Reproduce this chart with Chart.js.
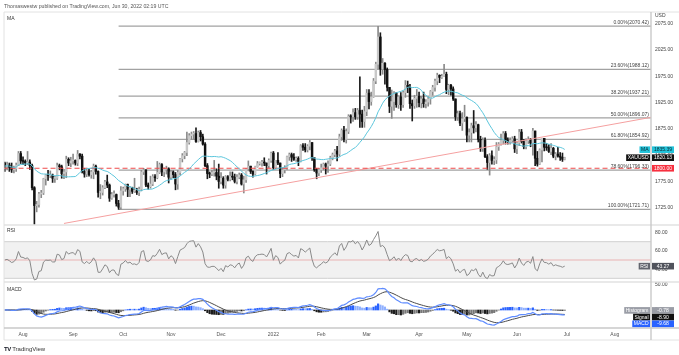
<!DOCTYPE html>
<html>
<head>
<meta charset="utf-8">
<title>XAUUSD daily</title>
<script src="https://cdn.jsdelivr.net/npm/chart.js@4.4.0/dist/chart.umd.min.js"></script>
<style>
  html, body { margin: 0; padding: 0; background: #fff; }
  #wrap { position: relative; width: 679px; height: 355px; overflow: hidden; font-family: "Liberation Sans", Arial, sans-serif; }
  #chart { position: absolute; left: 0; top: 0; }
  .hdr { position: absolute; left: 4px; top: 3px; font-size: 10.4px; color: #555; white-space: nowrap; transform: scale(0.5); transform-origin: 0 0; }
  .logo { position: absolute; left: 4px; top: 344.5px; font-size: 12px; color: #333; white-space: nowrap; transform: scale(0.5); transform-origin: 0 0; }
  .logo b { font-weight: 900; color: #131722; letter-spacing: -1px; margin-right: 3px; }
</style>
</head>
<body>
<div id="wrap">
  <canvas id="chart" width="679" height="355"></canvas>
  <div class="hdr">Thomaswestw published on TradingView.com, Jun 30, 2022 02:19 UTC</div>
  <div class="logo"><b>TV</b>TradingView</div>
</div>
<script>
// XAUUSD daily bars, Jul 21 2021 -> Jun 30 2022 (one line per month)
const opens = [
  1810,1804,1806,1802,1797,1799,1806,1828,
  1814,1813,1810,1812,1805,1763,1729,1731,1751,1753,1780,1787,1786,1787,1781,1781,1805,1803,1790,1793,1817,1810,
  1814,1815,1810,1827,1823,1794,1789,1795,1788,1793,1804,1794,1754,1754,1763,1774,1768,1743,1750,1750,1733,1726,
  1757,1761,1769,1760,1763,1756,1757,1754,1760,1793,1797,1768,1765,1770,1784,1782,1792,1807,1793,1798,1799,
  1783,1793,1788,1770,1792,1818,1824,1830,1849,1862,1865,1866,1851,1868,1860,1846,1805,1790,1789,1792,1792,1785,
  1775,1781,1768,1784,1779,1785,1783,1775,1783,1787,1770,1778,1799,1804,1794,1789,1803,1809,1810,1811,1810,1805,1815,
  1829,1801,1815,1810,1790,1797,1801,1822,1826,1821,1817,1819,1813,1843,1840,1835,1842,1849,1820,1797,1791,
  1797,1801,1808,1804,1808,1820,1826,1833,1827,1860,1872,1855,1870,1899,1898,1906,1898,1910,1903,1889,
  1908,1943,1927,1936,1966,1998,2050,1989,2000,1988,1954,1918,1927,1943,1921,1936,1921,1944,1958,1954,1923,1919,1933,
  1937,1925,1932,1923,1926,1932,1946,1954,1966,1977,1973,1975,1979,1950,1958,1951,1932,1898,1904,1886,1894,
  1897,1863,1868,1881,1877,1883,1855,1838,1853,1822,1811,1824,1815,1816,1841,1846,1853,1866,1853,1851,1853,1856,
  1837,1848,1869,1851,1841,1852,1855,1848,1871,1819,1808,1835,1857,1840,1839,1832,1838,1823,1827,1823,1821,1817
];
const highs = [
  1812,1812,1810,1810,1804,1810,1832,1832,
  1822,1816,1832,1816,1808,1765,1737,1754,1758,1781,1788,1796,1795,1789,1785,1810,1808,1806,1798,1823,1820,1821,
  1827,1816,1834,1828,1827,1800,1800,1799,1796,1808,1806,1795,1769,1767,1777,1787,1770,1754,1757,1751,1739,1765,
  1764,1770,1770,1765,1764,1781,1762,1764,1796,1800,1797,1772,1785,1788,1788,1813,1810,1809,1801,1804,1801,
  1796,1795,1792,1796,1819,1828,1832,1869,1866,1869,1870,1877,1871,1872,1865,1849,1809,1793,1796,1815,1799,1808,
  1792,1784,1786,1786,1793,1793,1789,1788,1791,1790,1785,1800,1814,1804,1795,1804,1813,1812,1815,1820,1810,1818,1831,
  1832,1815,1830,1810,1801,1805,1823,1829,1829,1828,1822,1822,1845,1847,1847,1845,1853,1849,1820,1800,1800,
  1808,1810,1810,1814,1823,1829,1836,1842,1865,1875,1880,1875,1902,1902,1913,1914,1914,1974,1911,1918,
  1950,1950,1945,1971,2002,2070,2058,2009,2001,1991,1954,1949,1946,1944,1938,1944,1947,1967,1966,1960,1930,1939,1950,
  1945,1937,1945,1931,1936,1948,1958,1970,1981,1978,1979,1998,1983,1960,1960,1955,1932,1909,1909,1906,1920,
  1898,1875,1886,1910,1889,1884,1861,1858,1858,1826,1828,1833,1822,1849,1849,1865,1870,1870,1858,1858,1860,1861,
  1852,1874,1874,1855,1856,1860,1857,1876,1871,1832,1837,1857,1857,1847,1845,1847,1840,1830,1840,1830,1829,1821
];
const lows = [
  1794,1797,1794,1792,1791,1794,1805,1809,
  1807,1805,1807,1798,1759,1693,1717,1726,1744,1750,1768,1777,1782,1773,1773,1779,1797,1781,1780,1782,1805,1803,
  1808,1806,1805,1818,1791,1783,1784,1785,1781,1780,1789,1745,1742,1749,1761,1763,1737,1741,1745,1728,1721.71,1722,
  1749,1756,1746,1746,1752,1754,1750,1748,1757,1788,1765,1760,1762,1767,1775,1780,1790,1786,1784,1789,1772,
  1779,1782,1759,1760,1787,1812,1818,1824,1846,1855,1855,1849,1850,1852,1844,1803,1780,1782,1786,1785,1778,1762,
  1770,1762,1762,1776,1776,1778,1772,1770,1780,1768,1753,1773,1795,1790,1783,1787,1802,1806,1804,1805,1789,1801,1811,
  1798,1799,1807,1782,1784,1791,1798,1815,1813,1815,1813,1805,1812,1834,1831,1831,1835,1815,1794,1780,1786,
  1792,1797,1789,1792,1805,1816,1822,1814,1823,1853,1850,1848,1866,1886,1889,1893,1893,1878,1878,1878,
  1900,1913,1920,1935,1961,1989,1977,1979,1960,1947,1906,1895,1910,1916,1914,1910,1916,1935,1944,1914,1890,1914,1916,
  1917,1915,1916,1915,1918,1922,1939,1947,1959,1963,1971,1975,1942,1940,1939,1929,1891,1891,1881,1872,1889,
  1850,1850,1850,1867,1869,1850,1832,1832,1820,1798,1787,1808,1807,1809,1834,1844,1846,1846,1846,1846,1849,1830,
  1828,1843,1848,1837,1837,1847,1841,1825,1805,1804,1807,1812,1833,1834,1830,1826,1820,1816,1821,1815,1813,1816
];
const closes = [
  1804,1806,1802,1797,1799,1806,1828,1814,
  1813,1810,1812,1805,1763,1729,1731,1751,1753,1780,1787,1786,1787,1781,1781,1805,1803,1790,1793,1817,1810,1814,
  1815,1810,1827,1823,1794,1789,1795,1788,1793,1804,1794,1754,1754,1763,1774,1768,1743,1750,1750,1733,1726,1757,
  1761,1769,1760,1763,1756,1757,1754,1760,1793,1797,1768,1765,1770,1784,1782,1792,1807,1793,1798,1799,1783,
  1793,1788,1770,1792,1818,1824,1830,1849,1862,1865,1866,1851,1868,1860,1846,1805,1790,1789,1792,1792,1785,1775,
  1781,1768,1784,1779,1785,1783,1775,1783,1787,1770,1778,1799,1804,1794,1789,1803,1809,1810,1811,1810,1805,1815,1829,
  1801,1815,1810,1790,1797,1801,1822,1826,1821,1817,1819,1813,1843,1840,1835,1842,1849,1820,1797,1791,1797,
  1801,1808,1804,1808,1820,1826,1833,1827,1860,1872,1855,1870,1899,1898,1906,1898,1910,1903,1889,1908,
  1943,1927,1936,1966,1998,2050,1989,2000,1988,1954,1918,1927,1943,1921,1936,1921,1944,1958,1954,1923,1919,1933,1937,
  1925,1932,1923,1926,1932,1946,1954,1966,1977,1973,1975,1979,1950,1958,1951,1932,1898,1904,1886,1894,1897,
  1863,1868,1881,1877,1883,1855,1838,1853,1822,1811,1824,1815,1816,1841,1846,1853,1866,1853,1851,1853,1856,1837,
  1848,1869,1851,1841,1852,1855,1848,1871,1819,1808,1835,1857,1840,1839,1832,1838,1823,1827,1823,1821,1817,1820.13
];

// time axis: bar index of the first trading day of each month
const monthStarts = [8, 30, 52, 73, 95, 118, 139, 159, 182, 203, 225, 247, 268];
const monthLabels = ['Aug', 'Sep', 'Oct', 'Nov', 'Dec', '2022', 'Feb', 'Mar', 'Apr', 'May', 'Jun', 'Jul', 'Aug'];

const priceTicks = [2075, 2050, 2025, 2000, 1975, 1950, 1925, 1900, 1875, 1850, 1825, 1800, 1775, 1750, 1725, 1700];
const rsiTicks = [80, 60, 40];
const macdTicks = [50, 25, 0, -25];

// fibonacci retracement drawn from the Sep 29 low (bar 50)
const fibPcts = ['0.00%', '23.60%', '38.20%', '50.00%', '61.80%', '78.60%', '100.00%'];
const fibPrices = [2070.42, 1988.12, 1937.21, 1896.07, 1854.92, 1796.33, 1721.71];
const fibStart = 50;

// rising trendline and horizontal support
const trendX = [26, 284];
const trendY = [1695, 1897];
const supportLevel = 1800;

// last values shown on the right scale
const lastMA = 1835.39, lastClose = 1820.13, lastRSI = 43.27;
const lastHist = -0.78, lastSignal = -8.90, lastMACD = -9.68;

const xMin = -0.35, xMax = 283.9;

// indicators
function sma(src, n) {
    return src.map((_, i) => {
        const from = Math.max(0, i - n + 1);
        let s = 0;
        for (let k = from; k <= i; k++) s += src[k];
        return s / (i - from + 1);
    });
}
function ema(src, n) {
    const a = 2 / (n + 1);
    const out = [];
    src.forEach((v, i) => out.push(i === 0 ? v : out[i - 1] + a * (v - out[i - 1])));
    return out;
}
function rsi(src, n) {
    // Wilder smoothing, seeded neutral with the mean move of the first n bars
    let seed = 0;
    for (let i = 1; i <= n; i++) seed += Math.abs(src[i] - src[i - 1]);
    let ag = seed / n / 2, al = seed / n / 2;
    const out = [50];
    for (let i = 1; i < src.length; i++) {
        const d = src[i] - src[i - 1];
        ag = (ag * (n - 1) + Math.max(d, 0)) / n;
        al = (al * (n - 1) + Math.max(-d, 0)) / n;
        out.push(100 - 100 / (1 + ag / al));
    }
    return out;
}

const xs = closes.map((_, i) => i);
const isUp = closes.map((c, i) => c >= opens[i]);
const ma = sma(closes, 20);
const rsiVals = rsi(closes, 14);
const e12 = ema(closes, 12), e26 = ema(closes, 26);
const macd = e12.map((v, i) => v - e26[i]);
const signal = ema(macd, 9);
const hist = macd.map((v, i) => v - signal[i]);

const histColors = hist.map((h, i) => {
    const prev = i > 0 ? hist[i - 1] : 0;
    if (h >= 0) return h >= prev ? '#2962ff' : '#8fb0ff';
    return h <= prev ? '#1c1c1c' : '#777777';
});

const pts = (arr) => xs.map(i => ({x: i, y: arr[i]}));
const flat = (x0, x1, y) => [{x: x0, y: y}, {x: x1, y: y}];

const datasets = [
    { type: 'line', data: pts(ma), yAxisID: 'yPrice', borderColor: '#5cc6dc', borderWidth: 1, pointRadius: 0, order: 1 },
    { type: 'line', data: flat(-1, 290, supportLevel), yAxisID: 'yPrice', borderColor: '#f04b4b', borderWidth: 1.2, borderDash: [5, 3], pointRadius: 0, order: 2 },
    { type: 'line', data: [{x: trendX[0], y: trendY[0]}, {x: trendX[1], y: trendY[1]}], yAxisID: 'yPrice', borderColor: '#f5a0a0', borderWidth: 1, pointRadius: 0, order: 2 },
    { type: 'bar', data: xs.map(i => ({x: i, y: [opens[i], closes[i]]})), yAxisID: 'yPrice', grouped: false, barThickness: 1.8, minBarLength: 1,
      backgroundColor: isUp.map(u => u ? '#c8c8c8' : '#111111'), order: 3 },
    { type: 'bar', data: xs.map(i => ({x: i, y: [lows[i], highs[i]]})), yAxisID: 'yPrice', grouped: false, barThickness: 1,
      backgroundColor: isUp.map(u => u ? '#8a8a8a' : '#1a1a1a'), order: 4 },
    // oscillators
    { type: 'line', data: pts(rsiVals), yAxisID: 'yRsi', borderColor: '#8a8a8a', borderWidth: 1, pointRadius: 0, order: 1 },
    { type: 'line', data: pts(macd), yAxisID: 'yMacd', borderColor: '#5f8cff', borderWidth: 1.2, pointRadius: 0, order: 1 },
    { type: 'line', data: pts(signal), yAxisID: 'yMacd', borderColor: '#4a4a4a', borderWidth: 1, pointRadius: 0, order: 2 },
    { type: 'bar', data: pts(hist), yAxisID: 'yMacd', grouped: false, barThickness: 1.5, backgroundColor: histColors, order: 6 }
];
fibPrices.forEach(p => {
    datasets.push({ type: 'line', data: flat(fibStart, 290, p), yAxisID: 'yPrice', borderColor: '#a2a2a2', borderWidth: 1.3, pointRadius: 0, order: 5 });
});

const FONT = '"Liberation Sans", Arial, sans-serif';
Chart.defaults.font.family = FONT;

function tag(ctx, x, y, w, text, bg, fg) {
    ctx.fillStyle = bg;
    ctx.fillRect(x, y - 3.3, w, 6.6);
    ctx.fillStyle = fg;
    ctx.textAlign = 'center';
    ctx.textBaseline = 'middle';
    ctx.fillText(text, x + w / 2, y + 0.3);
}
function nameTag(ctx, y, text, bg, fg) {
    const w = ctx.measureText(text).width + 3;
    tag(ctx, 650 - w, y, w, text, bg, fg);
}

const panes = {
    id: 'panes',
    beforeDatasetsDraw(chart) {
        const {ctx, chartArea: a, scales} = chart;
        const r = scales.yRsi;
        const y70 = r.getPixelForValue(70), y30 = r.getPixelForValue(30), y50 = r.getPixelForValue(50);
        ctx.save();
        ctx.fillStyle = '#f1f1f1';
        ctx.fillRect(a.left, y70, a.width, y30 - y70);
        ctx.strokeStyle = '#d0d0d0';
        ctx.lineWidth = 1;
        [y70, y30].forEach(y => { ctx.beginPath(); ctx.moveTo(a.left, y); ctx.lineTo(a.right, y); ctx.stroke(); });
        ctx.strokeStyle = '#e9a5a5';
        ctx.lineWidth = 0.8;
        ctx.beginPath(); ctx.moveTo(a.left, y50); ctx.lineTo(a.right, y50); ctx.stroke();
        ctx.restore();
    },
    beforeDatasetDraw(chart, args) {
        const {ctx, chartArea: a} = chart;
        const ys = chart.scales[args.meta.yAxisID];
        ctx.save();
        ctx.beginPath();
        ctx.rect(a.left, ys.top, a.width, ys.bottom - ys.top);
        ctx.clip();
    },
    afterDatasetDraw(chart) {
        chart.ctx.restore();
    },
    afterDraw(chart) {
        const {ctx, chartArea: a, scales} = chart;
        const p = scales.yPrice, r = scales.yRsi, m = scales.yMacd;
        ctx.save();

        // pane borders and separators
        ctx.strokeStyle = '#e2e2e2';
        ctx.lineWidth = 1;
        ctx.beginPath(); ctx.moveTo(a.left, a.top); ctx.lineTo(679, a.top); ctx.stroke();
        ctx.beginPath(); ctx.moveTo(a.left, a.top); ctx.lineTo(a.left, 340); ctx.stroke();
        ctx.beginPath(); ctx.moveTo(a.left, 340); ctx.lineTo(679, 340); ctx.stroke();
        ctx.lineWidth = 1.6;
        [p.bottom, r.bottom].forEach(y => { ctx.beginPath(); ctx.moveTo(a.left, y); ctx.lineTo(679, y); ctx.stroke(); });
        ctx.strokeStyle = '#c9c9c9';
        ctx.lineWidth = 1.4;
        ctx.beginPath(); ctx.moveTo(a.left, a.bottom); ctx.lineTo(679, a.bottom); ctx.stroke();
        ctx.beginPath(); ctx.moveTo(a.right, a.top); ctx.lineTo(a.right, 340); ctx.stroke();

        // pane titles
        ctx.font = '5px ' + FONT;
        ctx.fillStyle = '#333';
        ctx.textAlign = 'left';
        ctx.textBaseline = 'middle';
        ctx.fillText('MA', 7, 19);
        ctx.fillText('RSI', 7, 231);
        ctx.fillText('MACD', 7, 290);
        ctx.fillStyle = '#444';
        ctx.fillText('USD', 655, 16);

        // fibonacci labels
        ctx.fillStyle = '#444';
        ctx.textAlign = 'right';
        ctx.textBaseline = 'alphabetic';
        fibPrices.forEach((v, i) => {
            ctx.fillText(fibPcts[i] + '(' + v.toFixed(2) + ')', a.right - 2, p.getPixelForValue(v) - 2);
        });

        // last value tags on the right scale
        const vx = a.right + 1, vw = 22;
        let y = p.getPixelForValue(lastMA);
        nameTag(ctx, y, 'MA', '#22c3da', '#0b2a33');
        tag(ctx, vx, y, vw, lastMA.toFixed(2), '#22c3da', '#0b2a33');
        y = p.getPixelForValue(lastClose);
        nameTag(ctx, y, 'XAUUSD', '#111', '#fff');
        tag(ctx, vx, y, vw, lastClose.toFixed(2), '#111', '#fff');
        y = p.getPixelForValue(supportLevel);
        tag(ctx, vx, y, vw, supportLevel.toFixed(2), '#f7303f', '#fff');

        y = r.getPixelForValue(lastRSI);
        nameTag(ctx, y, 'RSI', '#62656e', '#fff');
        tag(ctx, vx, y, vw, lastRSI.toFixed(2), '#50535c', '#fff');

        const yh = m.getPixelForValue(lastHist);
        const ysg = Math.max(m.getPixelForValue(lastSignal), yh + 6.7);
        const ym = Math.max(m.getPixelForValue(lastMACD), ysg + 6.7);
        nameTag(ctx, yh, 'Histogram', '#9a9da6', '#fff');
        tag(ctx, vx, yh, vw, lastHist.toFixed(2), '#9a9da6', '#fff');
        nameTag(ctx, ysg, 'Signal', '#111', '#fff');
        tag(ctx, vx, ysg, vw, lastSignal.toFixed(2), '#111', '#fff');
        nameTag(ctx, ym, 'MACD', '#2962ff', '#fff');
        tag(ctx, vx, ym, vw, lastMACD.toFixed(2), '#2962ff', '#fff');

        ctx.restore();
    }
};

const yAxis = (weight, min, max, ticks) => ({
    type: 'linear',
    position: 'right',
    stack: 'panes',
    stackWeight: weight,
    min: min,
    max: max,
    grid: { display: false, drawTicks: false },
    border: { display: false },
    ticks: { padding: 4, font: { size: 5 }, color: '#444', callback: v => v.toFixed(2) },
    afterBuildTicks: s => { s.ticks = ticks.map(v => ({value: v})); },
    afterFit: s => { s.width = 28; }
});

new Chart(document.getElementById('chart'), {
    type: 'bar',
    data: { datasets: datasets },
    options: {
        responsive: false,
        animation: false,
        devicePixelRatio: 1,
        events: [],
        layout: { padding: { left: 4, top: 12, right: 0, bottom: 15 } },
        plugins: { legend: { display: false }, tooltip: { enabled: false } },
        scales: {
            x: {
                type: 'linear',
                position: 'bottom',
                offset: false,
                min: xMin,
                max: xMax,
                grid: { display: false, drawTicks: false, offset: false },
                border: { display: false },
                ticks: {
                    autoSkip: false,
                    maxRotation: 0,
                    padding: 4,
                    font: { size: 5 },
                    color: '#555',
                    callback: v => {
                        const k = monthStarts.indexOf(v);
                        return k < 0 ? '' : monthLabels[k];
                    }
                },
                afterBuildTicks: s => { s.ticks = monthStarts.map(v => ({value: v})); },
                afterFit: s => { s.height = 12; }
            },
            yPrice: yAxis(213, 1692, 2097.5, priceTicks),
            yRsi: yAxis(57, 26, 88.2, rsiTicks),
            yMacd: yAxis(46, -36, 56, macdTicks)
        }
    },
    plugins: [panes]
});
</script>
</body>
</html>
